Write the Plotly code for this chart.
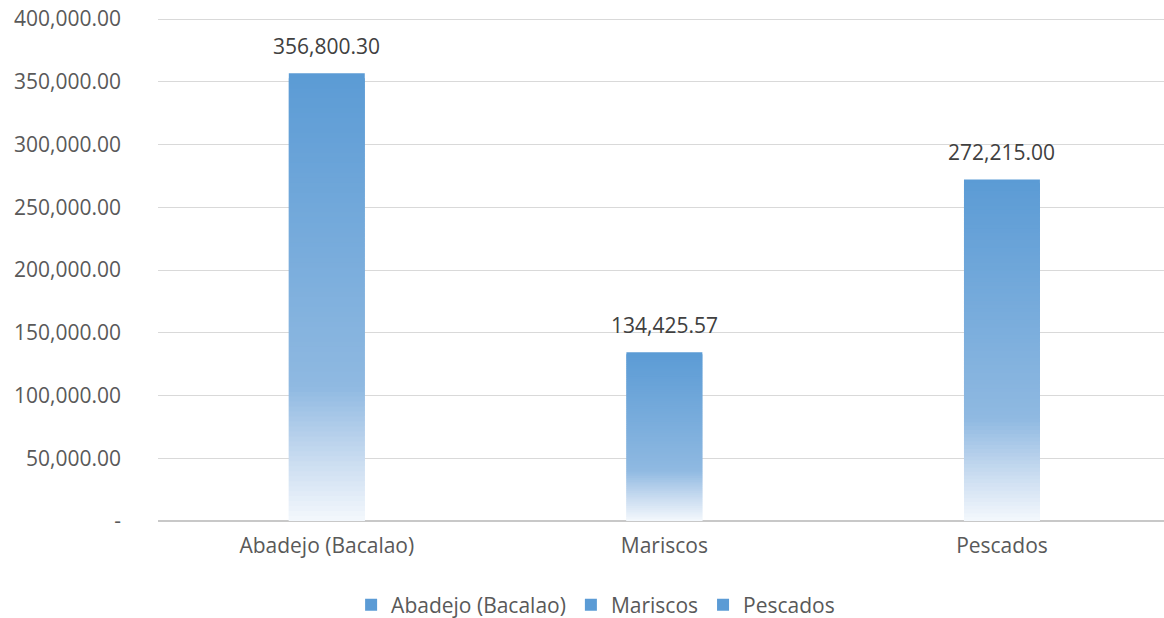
import plotly.graph_objects as go

# ---- data ----
categories = ["Abadejo (Bacalao)", "Mariscos", "Pescados"]
values = [356800.30, 134425.57, 272215.00]
value_labels = ["356,800.30", "134,425.57", "272,215.00"]
tick_values = [0, 50000, 100000, 150000, 200000, 250000, 300000, 350000, 400000]
tick_labels = ["-", "50,000.00", "100,000.00", "150,000.00", "200,000.00",
               "250,000.00", "300,000.00", "350,000.00", "400,000.00"]

# ---- style ----
FONT = "Open Sans"
# gradient stops: fraction from top of bar -> rgb
grad = [(0.0, (91, 155, 213)), (0.70, (143, 185, 225)), (0.86, (200, 219, 240)), (1.0, (244, 248, 252))]
N_SEG = 90
BAR_W = 0.225


def grad_color(f):
    for (f0, c0), (f1, c1) in zip(grad[:-1], grad[1:]):
        if f0 <= f <= f1:
            t = (f - f0) / (f1 - f0) if f1 > f0 else 0
            return "rgb(%d,%d,%d)" % tuple(round(a + (b - a) * t) for a, b in zip(c0, c1))
    return "rgb(%d,%d,%d)" % grad[-1][1]


fig = go.Figure()
for cat, val in zip(categories, values):
    seg_h = val / N_SEG
    bases, heights, colors = [], [], []
    for k in range(N_SEG):
        # k=0 is the top segment; each segment extends downward into the next
        top = val - k * seg_h
        bottom = max(0.0, top - 2.0 * seg_h)
        bases.append(bottom)
        heights.append(top - bottom)
        colors.append(grad_color((k + 0.5) / N_SEG))
    fig.add_trace(go.Bar(
        x=[cat] * N_SEG, y=heights, base=bases, width=BAR_W,
        marker=dict(color=colors, line=dict(width=0)),
        name=cat, showlegend=True, hoverinfo="skip",
    ))

# value labels
for cat, val, lab in zip(categories, values, value_labels):
    fig.add_annotation(x=cat, y=val, text=lab, showarrow=False,
                       xanchor="center", yanchor="bottom", yshift=11,
                       font=dict(family=FONT, size=21, color="#404040"))

fig.update_layout(
    width=1164, height=618,
    barmode="overlay",
    paper_bgcolor="white", plot_bgcolor="white",
    margin=dict(l=158, r=0, t=17, b=97, autoexpand=False),
    font=dict(family=FONT, size=21, color="#595959"),
    legend=dict(orientation="h", x=0.435, xanchor="center", y=-0.167, yanchor="middle",
                font=dict(family=FONT, size=21, color="#595959"),
                traceorder="normal"),
    xaxis=dict(type="category", range=[-0.5, 2.48], showgrid=False,
               showline=False, ticks="", ticklabelstandoff=10,
               tickfont=dict(family=FONT, size=21, color="#595959")),
    yaxis=dict(range=[0, 401600], tickvals=tick_values, ticktext=tick_labels,
               showgrid=True, gridcolor="#D9D9D9", gridwidth=1.3,
               zeroline=True, zerolinecolor="#C8C8C8", zerolinewidth=1.6,
               showline=False, ticks="", ticklabelstandoff=36,
               ticklabeloverflow="allow",
               tickfont=dict(family=FONT, size=21, color="#595959")),
)

# remove the default 8px page margin so the figure fills the window exactly
fig.write_html("out.html", config={"displayModeBar": False},
               post_script="document.body.style.margin='0';")
